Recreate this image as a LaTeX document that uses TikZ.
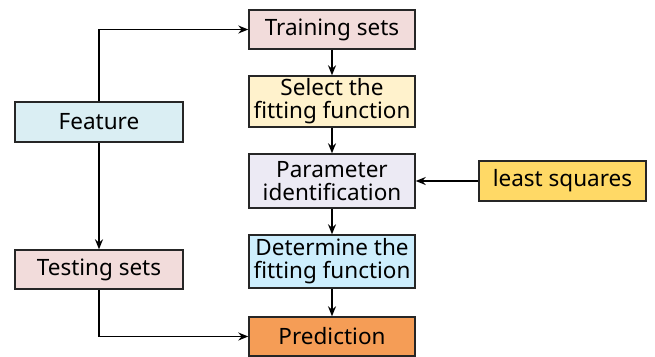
\documentclass[tikz,border=0pt]{standalone}
\usepackage{fontspec}
\setmainfont{Noto Sans}
\usetikzlibrary{arrows.meta}
\definecolor{pinkfill}{HTML}{F2DCDB}
\definecolor{yellowfill}{HTML}{FFF2CC}
\definecolor{lavfill}{HTML}{ECEAF4}
\definecolor{bluefill}{HTML}{CDEEFD}
\definecolor{orangefill}{HTML}{F59D56}
\definecolor{goldfill}{HTML}{FFD966}
\definecolor{cyanfill}{HTML}{DAEEF3}
\definecolor{edge}{HTML}{262626}
\tikzset{
  box/.style={draw=edge, line width=1.4pt, inner sep=0pt, align=center,
    font=\fontsize{22.5}{23}\selectfont, text=black},
  conn/.style={draw=black, line width=1.4pt, -{Stealth[length=10pt,width=8pt]}},
}
\begin{document}
\begin{tikzpicture}[x=1pt,y=-1pt]
\useasboundingbox (0,0) rectangle (655,356);
\node[box, fill=pinkfill, minimum width=166pt, minimum height=39pt] (train) at (332,29.5) {Training sets};
\node[box, fill=yellowfill, minimum width=166pt, minimum height=51pt] (select) at (332,101.5) {Select the\\fitting function};
\node[box, fill=lavfill, minimum width=166pt, minimum height=54pt] (param) at (332,181) {Parameter\\identification};
\node[box, fill=bluefill, minimum width=166pt, minimum height=53pt] (determ) at (332,261.5) {Determine the\\fitting function};
\node[box, fill=orangefill, minimum width=166pt, minimum height=39pt] (pred) at (332,336.5) {Prediction};
\node[box, fill=cyanfill, minimum width=168pt, minimum height=40pt] (feat) at (99,122) {Feature};
\node[box, fill=pinkfill, minimum width=168pt, minimum height=39pt] (test) at (99,269.5) {Testing sets};
\node[box, fill=goldfill, minimum width=167pt, minimum height=40pt] (ls) at (562.5,181) {least squares};
\coordinate (c1) at (99,29.5);
\coordinate (c2) at (99,336.5);
\draw[conn] (feat.north) -- (c1) -- (train.west);
\draw[conn] (feat.south) -- (test.north);
\draw[conn] (test.south) -- (c2) -- (pred.west);
\draw[conn] (train.south) -- (select.north);
\draw[conn] (select.south) -- (param.north);
\draw[conn] (param.south) -- (determ.north);
\draw[conn] (determ.south) -- (pred.north);
\draw[conn] (ls.west) -- (param.east);
\end{tikzpicture}
\end{document}
